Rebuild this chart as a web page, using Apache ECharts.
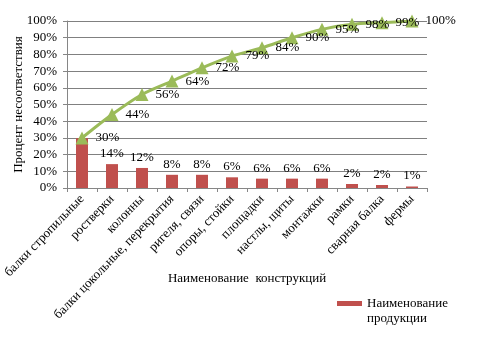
<!DOCTYPE html>
<html>
<head>
<meta charset="utf-8">
<script src="https://cdn.jsdelivr.net/npm/echarts@6/dist/echarts.min.js"></script>
<style>
  html, body { margin: 0; padding: 0; background: #fff; }
  #chart { width: 486px; height: 343px; }
</style>
</head>
<body>
<div id="chart"></div>
<script>
// категории
const categories = [
  'балки стропильные', 'ростверки', 'колонны', 'балки цокольные, перекрытия',
  'ригеля, связи', 'опоры, стойки', 'площадки', 'настлы, щиты',
  'монтажки', 'рамки', 'сварная балка', 'фермы'
]
// доля каждой конструкции, %
const shareValues = [29.8, 14.3, 12.0, 7.9, 7.9, 6.4, 5.6, 5.6, 5.6, 2.4, 1.8, 0.9]
// накопленный процент
const cumulativeValues = [30, 44, 56, 64, 72, 79, 84, 90, 95, 98, 99, 100]

const font = 'Liberation Serif, Times New Roman, serif'
const chart = echarts.init(document.getElementById('chart'))

// подпись первого столбца совпадает с линией, скрываем
const barData = shareValues.map((v, i) => i === 0 ? { value: v, label: { show: false } } : v)

chart.setOption({
  animation: false,
  textStyle: { fontFamily: font, color: '#000' },
  grid: { left: 67, right: 59, top: 21, bottom: 155 },
  legend: {
    left: 337,
    top: 296,
    padding: 0,
    // прямоугольник сверху, чтобы стоял на уровне первой строки
    icon: 'path://M0,0H25V5H0Z M0,19.99H0.01V20H0Z',
    itemWidth: 25,
    itemHeight: 20,
    data: ['Наименование\nпродукции'],
    textStyle: { fontFamily: font, fontSize: 13, color: '#000', lineHeight: 15 }
  },
  xAxis: {
    type: 'category',
    data: categories,
    name: 'Наименование  конструкций',
    nameLocation: 'middle',
    nameGap: 84,
    nameMoveOverlap: false,
    nameTextStyle: { fontFamily: font, fontSize: 13, color: '#000' },
    axisLine: { lineStyle: { color: '#868686' } },
    axisTick: { show: true, length: 4, lineStyle: { color: '#868686' } },
    axisLabel: { rotate: 46, fontFamily: font, fontSize: 13, color: '#000', margin: 9, interval: 0 }
  },
  yAxis: {
    type: 'value',
    min: 0,
    max: 100,
    interval: 10,
    name: 'Процент несоответствия',
    nameLocation: 'middle',
    nameGap: 42,
    nameMoveOverlap: false,
    nameTextStyle: { fontFamily: font, fontSize: 13, color: '#000' },
    axisLine: { show: true, lineStyle: { color: '#868686' } },
    axisTick: { show: true, length: 4, lineStyle: { color: '#868686' } },
    axisLabel: { formatter: '{value}%', fontFamily: font, fontSize: 13, color: '#000', margin: 10 },
    splitLine: { lineStyle: { color: '#808080' } }
  },
  series: [
    {
      name: 'Наименование\nпродукции',
      type: 'bar',
      data: barData,
      barWidth: '40%',
      itemStyle: { color: '#C0504D' },
      label: {
        show: true,
        position: 'top',
        distance: 4,
        fontFamily: font,
        fontSize: 13,
        color: '#000',
        formatter: p => Math.round(p.value) + '%'
      }
    },
    {
      name: 'Накопленный',
      type: 'line',
      data: cumulativeValues,
      smooth: 0.3,
      symbol: 'triangle',
      symbolSize: 13,
      lineStyle: { color: '#9BBB59', width: 3 },
      itemStyle: { color: '#9BBB59' },
      label: {
        show: true,
        position: 'right',
        distance: 7,
        fontFamily: font,
        fontSize: 13,
        color: '#000',
        formatter: '{c}%'
      },
      z: 3
    }
  ]
})
</script>
</body>
</html>
